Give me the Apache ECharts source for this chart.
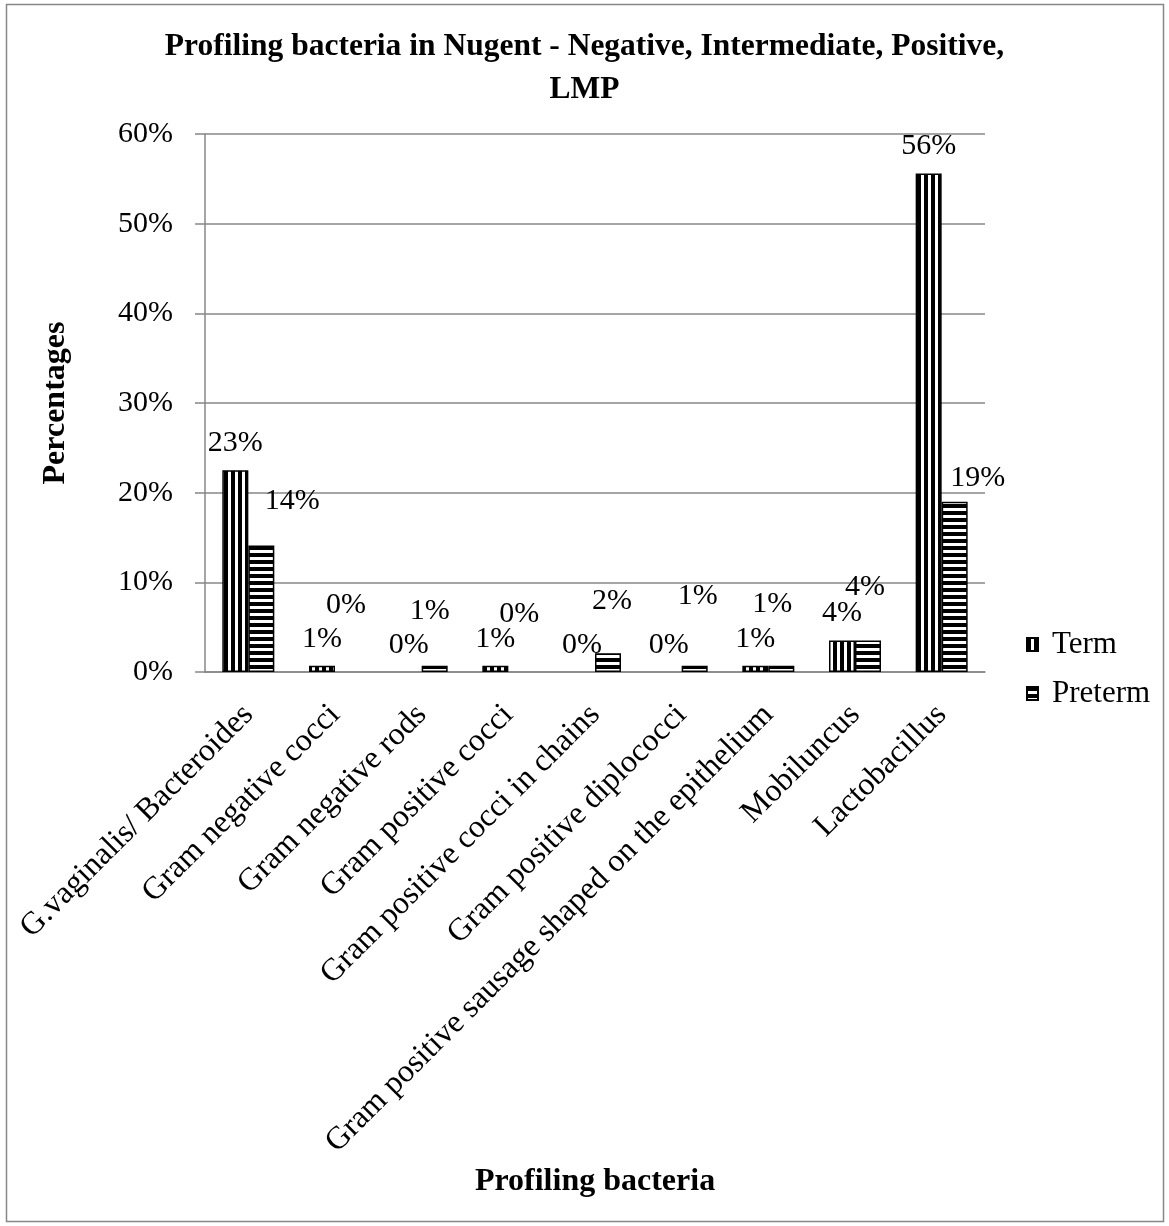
<!DOCTYPE html>
<html>
<head>
<meta charset="utf-8">
<title>Profiling bacteria in Nugent</title>
<script src="https://cdn.jsdelivr.net/npm/echarts@6/dist/echarts.min.js"></script>
<style>
  html, body { margin: 0; padding: 0; background: #fff; }
  #chart { width: 1169px; height: 1226px; }
</style>
</head>
<body>
<div id="chart"></div>
<script>
// Bacterial morphotypes scored in the Nugent smear
const categories = [
  'G.vaginalis/ Bacteroides',
  'Gram negative cocci',
  'Gram negative rods',
  'Gram positive cocci',
  'Gram positive cocci in chains',
  'Gram positive diplococci',
  'Gram positive sausage shaped on the epithelium',
  'Mobiluncus',
  'Lactobacillus'
];

// Share of samples (%) per group
const termValues    = [22.5, 0.7, 0, 0.7, 0, 0, 0.7, 3.5, 55.6];
const pretermValues = [14.1, 0, 0.7, 0, 2.1, 0.7, 0.7, 3.5, 19.0];

// Y axis ticks (%)
const yTicks = [0, 10, 20, 30, 40, 50, 60];

// Nudges for the Preterm value labels so they clear neighbouring labels
const pretermLabelShift = [[31, -17], [-2, -40], [-5, -28], [-2, -31], [4, -25], [3, -43], [-9, -35], [-3, -26], [23, 3]];

const FONT = '"Liberation Serif", "Times New Roman", serif';
const GRAY = '#878787';

// Black/white stripe fills
function stripePattern(vertical) {
  const c = document.createElement('canvas');
  const period = 7, dark = 4;
  c.width = vertical ? period : 8;
  c.height = vertical ? 8 : period;
  const ctx = c.getContext('2d');
  ctx.fillStyle = '#fff';
  ctx.fillRect(0, 0, c.width, c.height);
  ctx.fillStyle = '#000';
  if (vertical) ctx.fillRect(0, 0, dark, c.height);
  else ctx.fillRect(0, 0, c.width, dark);
  return { image: c, repeat: 'repeat' };
}

// zero-height bars get no outline
const barItems = (values, extra) => values.map((v, i) => {
  const item = Object.assign({ value: v }, extra ? extra(i) : {});
  if (v === 0) item.itemStyle = { borderWidth: 0 };
  return item;
});

const pct = p => Math.round(p.value) + '%';

const labelStyle = {
  show: true,
  position: 'top',
  distance: 12,
  fontFamily: FONT,
  fontSize: 30,
  color: '#000',
  formatter: pct
};

const chart = echarts.init(document.getElementById('chart'), null, { renderer: 'canvas' });

chart.setOption({
  backgroundColor: '#fff',
  animation: false,
  textStyle: { fontFamily: FONT, color: '#000' },
  title: {
    text: 'Profiling bacteria in Nugent - Negative, Intermediate, Positive,\nLMP',
    left: 'center',
    top: 20,
    textStyle: { fontFamily: FONT, fontWeight: 'bold', fontSize: 31.5, lineHeight: 43, color: '#000' }
  },
  legend: {
    orient: 'vertical',
    left: 1021,
    top: 624,
    icon: 'rect',
    itemWidth: 11,
    itemHeight: 13,
    itemGap: 18,
    textStyle: { fontFamily: FONT, fontSize: 31, color: '#000', padding: [0, 0, 0, 9] },
    data: ['Term', 'Preterm']
  },
  grid: { left: 205, right: 184, top: 134, bottom: 554, containLabel: false },
  xAxis: {
    type: 'category',
    data: categories,
    name: 'Profiling bacteria',
    nameLocation: 'middle',
    nameGap: 494,
    nameTextStyle: { fontFamily: FONT, fontWeight: 'bold', fontSize: 32, color: '#000' },
    axisLine: { lineStyle: { color: GRAY, width: 1.5 } },
    axisTick: { show: false },
    axisLabel: {
      rotate: 45,
      interval: 0,
      margin: 38,
      fontFamily: FONT,
      fontSize: 32,
      color: '#000'
    }
  },
  yAxis: {
    type: 'value',
    min: yTicks[0],
    max: yTicks[yTicks.length - 1],
    interval: yTicks[1] - yTicks[0],
    name: 'Percentages',
    nameLocation: 'middle',
    nameGap: 133,
    nameRotate: 90,
    nameTextStyle: { fontFamily: FONT, fontWeight: 'bold', fontSize: 32, color: '#000' },
    axisLine: { show: true, lineStyle: { color: GRAY, width: 1.5 } },
    axisTick: { show: true, length: 10, lineStyle: { color: GRAY, width: 1.5 } },
    splitLine: { show: true, lineStyle: { color: GRAY, width: 1.5 } },
    axisLabel: {
      margin: 32,
      fontFamily: FONT,
      fontSize: 30,
      color: '#000',
      formatter: '{value}%'
    }
  },
  series: [
    {
      name: 'Term',
      type: 'bar',
      barGap: '0%',
      barCategoryGap: '40%',
      data: barItems(termValues),
      itemStyle: { color: stripePattern(true), borderColor: '#000', borderWidth: 1.5 },
      label: labelStyle
    },
    {
      name: 'Preterm',
      type: 'bar',
      barGap: '0%',
      barCategoryGap: '40%',
      data: barItems(pretermValues, i => ({ label: { offset: pretermLabelShift[i] } })),
      itemStyle: { color: stripePattern(false), borderColor: '#000', borderWidth: 1.5 },
      label: labelStyle
    }
  ],
  graphic: [
    {
      type: 'rect',
      shape: { x: 6.5, y: 4.5, width: 1157, height: 1217 },
      style: { fill: null, stroke: GRAY, lineWidth: 1.5 },
      silent: true
    }
  ]
});
</script>
</body>
</html>
